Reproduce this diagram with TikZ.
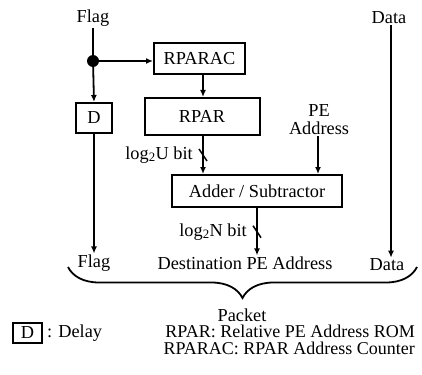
\documentclass[tikz,border=0pt]{standalone}
\usepackage{fontspec}
\setmainfont{Liberation Serif}
\usetikzlibrary{arrows.meta,decorations.pathreplacing}

\begin{document}
\begin{tikzpicture}[x=1pt,y=1pt,
  font=\fontsize{18.3}{18}\selectfont,
  every node/.style={inner sep=1pt},
  blk/.style={draw,line width=2pt,minimum width=#1,inner sep=0pt},
  arr/.style={line width=1.8pt,-{Latex[length=7pt,width=6pt]}},
  wire/.style={line width=1.8pt}]
\useasboundingbox (0,0) rectangle (422,-374);
% inputs
\node (flagin) at (93,-18) {Flag};
\node (datain) at (389,-18) {Data};
\coordinate (split) at (93,-61);
\fill (split) circle (6);
% blocks
\node [blk=91pt,minimum height=31pt] (rparac) at (199.5,-58.5) {RPARAC};
\node [blk=36pt,minimum height=30pt] (delay) at (94,-118) {D};
\node [blk=115pt,minimum height=37pt] (rpar) at (202,-116.5) {RPAR};
\node [blk=170pt,minimum height=32pt] (addsub) at (257,-191) {Adder / Subtractor};
\node [align=center] (peaddr) at (319,-120) {PE\\Address};
% outputs
\node (flagout) at (94,-263) {Flag};
\node (dest) at (245,-263) {Destination PE Address};
\node (dataout) at (387,-265) {Data};
\node (packet) at (242,-315) {Packet};
% connections
\draw [wire] (flagin) -- (split);
\draw [arr] (split) -- (split -| rparac.west);
\draw [arr] (split) -- (delay.north);
\draw [arr] (delay.south) -- (flagout.north);
\draw [arr] (rparac.south -| 203,0) -- (rpar.north -| 203,0);
\draw [arr] (rpar.south -| 203,0) -- coordinate (umid) (addsub.north -| 203,0);
\draw [arr] (peaddr.south -| 318,0) -- (addsub.north -| 318,0);
\draw [arr] (addsub.south) -- coordinate (nmid) (addsub.south |- dest.north);
\draw [arr] (datain.south -| 391,0) -- (dataout.north -| 391,0);
% bus widths
\draw [line width=1.5pt] (umid) ++(-4,6) -- ++(8,-12);
\node [anchor=east] at ([xshift=-9pt]umid) {log\textsubscript{2}U bit};
\draw [line width=1.5pt] (nmid) ++(-4,6) -- ++(8,-12);
\node [anchor=east] at ([xshift=-9pt]nmid) {log\textsubscript{2}N bit};
% packet brace
\coordinate (bl) at (68,-267);
\coordinate (br) at (417,-267);
\draw [line width=1.8pt,decorate,decoration={brace,mirror,amplitude=31pt}] (bl) -- (br);
% legend
\node [blk=29pt,minimum height=20pt] (legd) at (27.5,-333) {D};
\node [anchor=west] (legtxt) at ([xshift=3pt]legd.east) {: Delay};
\node [anchor=east,align=right,font=\fontsize{18}{17}\selectfont] (abbr) at (416,-340)
  {RPAR: Relative PE Address ROM\\RPARAC: RPAR Address Counter};
\end{tikzpicture}
\end{document}
